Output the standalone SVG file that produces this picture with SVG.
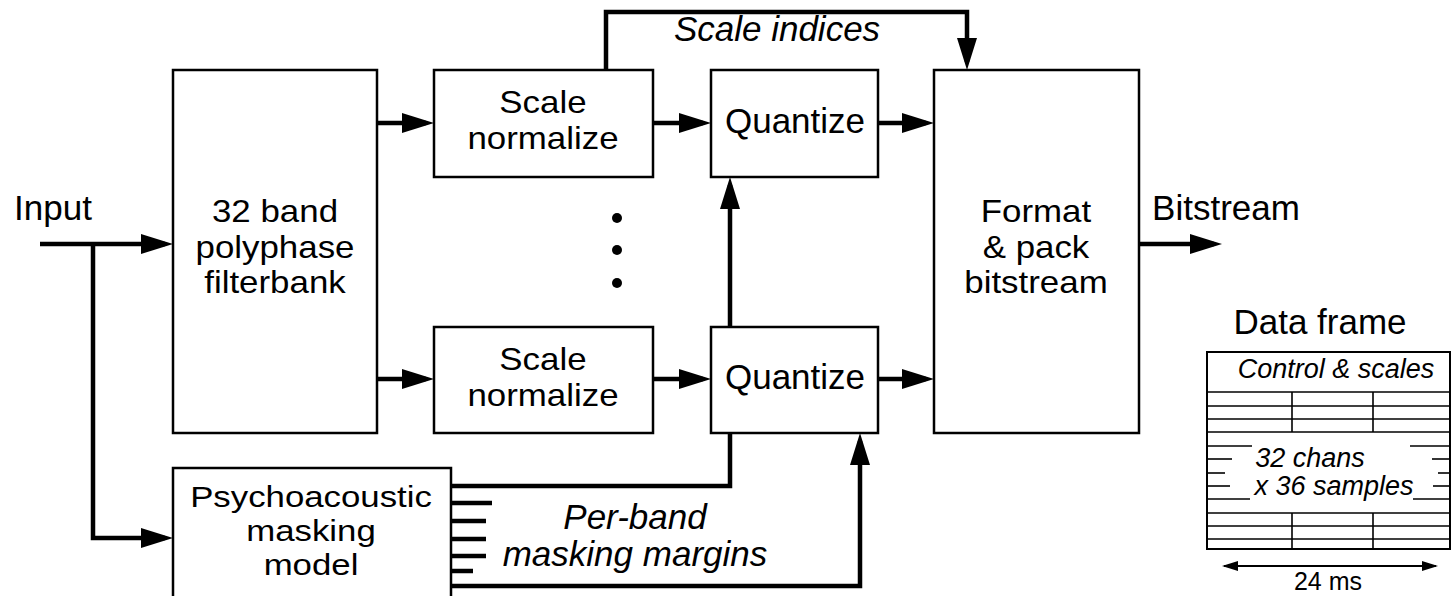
<svg xmlns="http://www.w3.org/2000/svg" width="1454" height="596" viewBox="0 0 1454 596">
<style>
.box{fill:#fff;stroke:#000;stroke-width:2.5}
.c{fill:none;stroke:#000;stroke-width:4.5}
.thin{fill:none;stroke:#000;stroke-width:1.6}
.t{font-family:"Liberation Sans",Arial,sans-serif;font-size:35px;fill:#000;text-anchor:middle}
.m{font-size:32px}
.p{font-size:30px}
.i{font-style:italic}
.s{font-size:27px}
</style>
<defs>
<marker id="ah" markerUnits="userSpaceOnUse" markerWidth="32" markerHeight="20" refX="24" refY="10" orient="auto">
<path d="M0,0 L32,10 L0,20 z" fill="#000"/>
</marker>
<marker id="sh" markerUnits="userSpaceOnUse" markerWidth="16" markerHeight="10" refX="14" refY="5" orient="auto-start-reverse">
<path d="M0,0 L16,5 L0,10 z" fill="#000"/>
</marker>
</defs>

<g id="filterbank">
<rect class="box" x="173" y="70" width="204" height="363"/>
<g transform="matrix(1.09,0,0,1,-24.75,0)">
<text class="t m" x="275" y="222">32 band</text>
<text class="t m" x="275" y="258">polyphase</text>
<text class="t m" x="275" y="293">filterbank</text>
</g>
</g>
<g id="scale-top">
<rect class="box" x="434" y="70" width="219" height="107"/>
<g transform="matrix(1.09,0,0,1,-48.87,0)">
<text class="t m" x="543" y="113">Scale</text>
<text class="t m" x="543" y="149">normalize</text>
</g>
</g>
<g id="quant-top">
<rect class="box" x="711" y="70" width="167" height="107"/>
<text class="t" x="795" y="133">Quantize</text>
</g>
<g id="scale-bot">
<rect class="box" x="434" y="327" width="219" height="106"/>
<g transform="matrix(1.09,0,0,1,-48.87,0)">
<text class="t m" x="543" y="370">Scale</text>
<text class="t m" x="543" y="406">normalize</text>
</g>
</g>
<g id="quant-bot">
<rect class="box" x="711" y="327" width="167" height="106"/>
<text class="t" x="795" y="389">Quantize</text>
</g>
<g id="format">
<rect class="box" x="934" y="70" width="205" height="363"/>
<g transform="matrix(1.09,0,0,1,-93.24,0)">
<text class="t m" x="1036" y="222">Format</text>
<text class="t m" x="1036" y="258">&amp; pack</text>
<text class="t m" x="1036" y="293">bitstream</text>
</g>
</g>
<g id="psycho">
<rect class="box" x="173" y="468" width="278" height="140"/>
<g transform="matrix(1.16,0,0,1,-49.76,0)">
<text class="t p" x="311" y="507">Psychoacoustic</text>
<text class="t p" x="311" y="541">masking</text>
<text class="t p" x="311" y="575">model</text>
</g>
</g>
<g id="dots">
<circle cx="617" cy="218" r="5"/>
<circle cx="617" cy="250" r="5"/>
<circle cx="617" cy="283" r="5"/>
</g>

<g id="connectors">
<line class="c" x1="40" y1="244" x2="165" y2="244" marker-end="url(#ah)"/>
<polyline class="c" points="93,244 93,538 165,538" marker-end="url(#ah)"/>
<line class="c" x1="377" y1="123" x2="426" y2="123" marker-end="url(#ah)"/>
<line class="c" x1="653" y1="123" x2="703" y2="123" marker-end="url(#ah)"/>
<line class="c" x1="878" y1="123" x2="926" y2="123" marker-end="url(#ah)"/>
<line class="c" x1="377" y1="379" x2="426" y2="379" marker-end="url(#ah)"/>
<line class="c" x1="653" y1="379" x2="703" y2="379" marker-end="url(#ah)"/>
<line class="c" x1="878" y1="379" x2="926" y2="379" marker-end="url(#ah)"/>
<line class="c" x1="1139" y1="244" x2="1214" y2="244" marker-end="url(#ah)"/>
<line class="c" x1="730" y1="327" x2="730" y2="185" marker-end="url(#ah)"/>
<polyline class="c" points="606,70 606,12 967,12 967,62" marker-end="url(#ah)"/>
<polyline class="c" points="451,486 730,486 730,433"/>
<polyline class="c" points="451,586 860,586 860,441" marker-end="url(#ah)"/>
<line class="c" x1="451" y1="503" x2="492" y2="503"/>
<line class="c" x1="451" y1="521" x2="486" y2="521"/>
<line class="c" x1="451" y1="539" x2="486" y2="539"/>
<line class="c" x1="451" y1="556" x2="486" y2="556"/>
<line class="c" x1="451" y1="571" x2="473" y2="571"/>
</g>

<g id="labels">
<text class="t" x="53" y="220">Input</text>
<text class="t" x="1226" y="220">Bitstream</text>
<text class="t i" x="777" y="41">Scale indices</text>
<text class="t i" x="635" y="529">Per-band</text>
<text class="t i" x="635" y="566">masking margins</text>
</g>

<g id="data-frame">
<text class="t" x="1320" y="334">Data frame</text>
<rect x="1207" y="352" width="243" height="197" fill="#fff" stroke="#000" stroke-width="2"/>
<text class="t i s" x="1336" y="378">Control &amp; scales</text>
<g class="thin">
<line x1="1207" y1="392" x2="1450" y2="392"/>
<line x1="1207" y1="406" x2="1450" y2="406"/>
<line x1="1207" y1="419" x2="1450" y2="419"/>
<line x1="1207" y1="432" x2="1450" y2="432"/>
<line x1="1207" y1="446" x2="1252" y2="446"/><line x1="1410" y1="446" x2="1450" y2="446"/>
<line x1="1207" y1="459" x2="1232" y2="459"/><line x1="1432" y1="459" x2="1450" y2="459"/>
<line x1="1207" y1="473" x2="1225" y2="473"/><line x1="1438" y1="473" x2="1450" y2="473"/>
<line x1="1207" y1="486" x2="1230" y2="486"/><line x1="1433" y1="486" x2="1450" y2="486"/>
<line x1="1207" y1="499" x2="1250" y2="499"/><line x1="1413" y1="499" x2="1450" y2="499"/>
<line x1="1207" y1="513" x2="1450" y2="513"/>
<line x1="1207" y1="526" x2="1450" y2="526"/>
<line x1="1207" y1="539" x2="1450" y2="539"/>
<line x1="1292" y1="392" x2="1292" y2="432"/>
<line x1="1373" y1="392" x2="1373" y2="432"/>
<line x1="1292" y1="513" x2="1292" y2="549"/>
<line x1="1373" y1="513" x2="1373" y2="549"/>
</g>
<text class="t i s" x="1310" y="467">32 chans</text>
<text class="t i s" x="1334" y="495">x 36 samples</text>
<line x1="1224" y1="566" x2="1436" y2="566" stroke="#000" stroke-width="2" marker-start="url(#sh)" marker-end="url(#sh)"/>
<text class="t" style="font-size:25px" x="1328" y="590">24 ms</text>
</g>
</svg>
